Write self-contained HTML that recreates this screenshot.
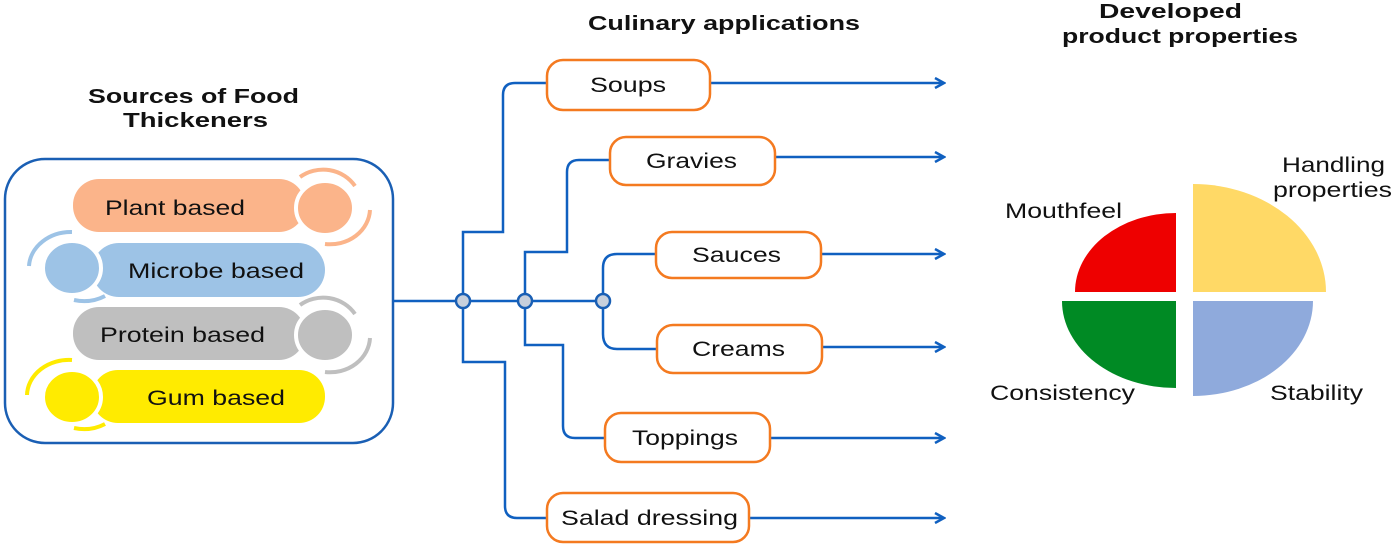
<!DOCTYPE html>
<html><head><meta charset="utf-8"><style>
html,body{margin:0;padding:0;background:#fff;}
svg{display:block;font-family:"Liberation Sans",Arial,sans-serif;}
</style></head><body>
<svg width="1397" height="548" viewBox="0 0 1397 548" xmlns="http://www.w3.org/2000/svg">
<defs>
<marker id="ar" markerWidth="12" markerHeight="12" refX="10" refY="6" orient="auto" markerUnits="userSpaceOnUse">
<path d="M1,1 L10,6 L1,11" fill="none" stroke="#1060c0" stroke-width="2.5"/>
</marker>
</defs>
<g font-weight="bold" font-size="20" fill="#111" lengthAdjust="spacingAndGlyphs">
<text x="88" y="103" textLength="211" lengthAdjust="spacingAndGlyphs">Sources of Food</text>
<text x="123" y="127" textLength="145" lengthAdjust="spacingAndGlyphs">Thickeners</text>
<text x="588" y="30" textLength="272" lengthAdjust="spacingAndGlyphs">Culinary applications</text>
<text x="1099" y="18" textLength="143" lengthAdjust="spacingAndGlyphs">Developed</text>
<text x="1062" y="43" textLength="236" lengthAdjust="spacingAndGlyphs">product properties</text>
</g>

<!-- left box -->
<rect x="5" y="159" width="388" height="284" rx="40" fill="#fff" stroke="#1a5fb4" stroke-width="2.5"/>
<!-- plant -->
<rect x="73" y="179" width="232" height="53" rx="26" fill="#fbb48a"/>
<ellipse cx="325" cy="208" rx="29" ry="27" fill="#fbb48a" stroke="#fff" stroke-width="4"/>
<path d="M300,177 A38,36 0 0 1 355,186" fill="none" stroke="#fbb48a" stroke-width="4"/>
<path d="M370,210 A40,36 0 0 1 325,244" fill="none" stroke="#fbb48a" stroke-width="4"/>
<!-- microbe -->
<rect x="92" y="243" width="233" height="54" rx="27" fill="#9dc3e6"/>
<ellipse cx="72" cy="268" rx="29" ry="27" fill="#9dc3e6" stroke="#fff" stroke-width="4"/>
<path d="M29,266 A42,36 0 0 1 72,232" fill="none" stroke="#9dc3e6" stroke-width="4"/>
<path d="M74,300 A40,34 0 0 0 105,296" fill="none" stroke="#9dc3e6" stroke-width="4"/>
<!-- protein -->
<rect x="73" y="307" width="232" height="53" rx="26" fill="#bfbfbf"/>
<ellipse cx="325" cy="335" rx="29" ry="27" fill="#bfbfbf" stroke="#fff" stroke-width="4"/>
<path d="M300,305 A38,36 0 0 1 355,314" fill="none" stroke="#bfbfbf" stroke-width="4"/>
<path d="M370,338 A40,36 0 0 1 325,372" fill="none" stroke="#bfbfbf" stroke-width="4"/>
<!-- gum -->
<rect x="92" y="370" width="233" height="53" rx="26" fill="#ffeb00"/>
<ellipse cx="72" cy="397" rx="29" ry="27" fill="#ffeb00" stroke="#fff" stroke-width="4"/>
<path d="M27,395 A42,36 0 0 1 72,360" fill="none" stroke="#ffeb00" stroke-width="4"/>
<path d="M74,428 A40,34 0 0 0 105,424" fill="none" stroke="#ffeb00" stroke-width="4"/>
<g font-size="21" fill="#111">
<text x="105" y="215" textLength="140" lengthAdjust="spacingAndGlyphs">Plant based</text>
<text x="128" y="278" textLength="176" lengthAdjust="spacingAndGlyphs">Microbe based</text>
<text x="100" y="342" textLength="165" lengthAdjust="spacingAndGlyphs">Protein based</text>
<text x="147" y="405" textLength="138" lengthAdjust="spacingAndGlyphs">Gum based</text>
</g>

<!-- connectors -->
<g fill="none" stroke="#1060c0" stroke-width="2.5">
<path d="M393,301 H603"/>
<path d="M463,301 V232 H503 V95 Q503,83 515,83 H547"/>
<path d="M463,301 V362 H505 V506 Q505,518 517,518 H547"/>
<path d="M525,301 V252 H567 V172 Q567,160 579,160 H610"/>
<path d="M525,301 V345 H563 V426 Q563,438 575,438 H605"/>
<path d="M603,301 V268 Q603,254 617,254 H656"/>
<path d="M603,301 V334 Q603,349 617,349 H657"/>
<path d="M710,83 H944" marker-end="url(#ar)"/>
<path d="M775,157 H944" marker-end="url(#ar)"/>
<path d="M821,254 H944" marker-end="url(#ar)"/>
<path d="M822,347 H944" marker-end="url(#ar)"/>
<path d="M770,438 H944" marker-end="url(#ar)"/>
<path d="M749,518 H944" marker-end="url(#ar)"/>
</g>
<g fill="#c8d0dc" stroke="#1a5fb4" stroke-width="2.5">
<circle cx="463" cy="301" r="7"/>
<circle cx="525" cy="301" r="7"/>
<circle cx="603" cy="301" r="7"/>
</g>

<!-- app boxes -->
<g fill="#fff" stroke="#f47a20" stroke-width="2.5">
<rect x="547" y="60" width="163" height="50" rx="16"/>
<rect x="610" y="137" width="165" height="48" rx="16"/>
<rect x="656" y="232" width="165" height="46" rx="16"/>
<rect x="657" y="325" width="165" height="48" rx="16"/>
<rect x="605" y="413" width="165" height="49" rx="16"/>
<rect x="547" y="493" width="202" height="49" rx="16"/>
</g>
<g font-size="21" fill="#111">
<text x="590" y="92" textLength="76" lengthAdjust="spacingAndGlyphs">Soups</text>
<text x="646" y="168" textLength="91" lengthAdjust="spacingAndGlyphs">Gravies</text>
<text x="692" y="262" textLength="89" lengthAdjust="spacingAndGlyphs">Sauces</text>
<text x="692" y="356" textLength="93" lengthAdjust="spacingAndGlyphs">Creams</text>
<text x="632" y="445" textLength="106" lengthAdjust="spacingAndGlyphs">Toppings</text>
<text x="561" y="525" textLength="177" lengthAdjust="spacingAndGlyphs">Salad dressing</text>
</g>

<!-- pie -->
<path d="M1193,292 V184 A133,108 0 0 1 1326,292 Z" fill="#ffd966"/>
<path d="M1176,292 V213 A101,79 0 0 0 1075,292 Z" fill="#ee0000"/>
<path d="M1176,301 H1062 A114,87 0 0 0 1176,388 Z" fill="#008a24"/>
<path d="M1193,301 H1313 A120,95 0 0 1 1193,396 Z" fill="#8faadc"/>
<g font-size="21" fill="#111">
<text x="1282" y="172" textLength="103" lengthAdjust="spacingAndGlyphs">Handling</text>
<text x="1273" y="197" textLength="119" lengthAdjust="spacingAndGlyphs">properties</text>
<text x="1005" y="218" textLength="117" lengthAdjust="spacingAndGlyphs">Mouthfeel</text>
<text x="990" y="400" textLength="145" lengthAdjust="spacingAndGlyphs">Consistency</text>
<text x="1270" y="400" textLength="93" lengthAdjust="spacingAndGlyphs">Stability</text>
</g>
</svg>
</body></html>
